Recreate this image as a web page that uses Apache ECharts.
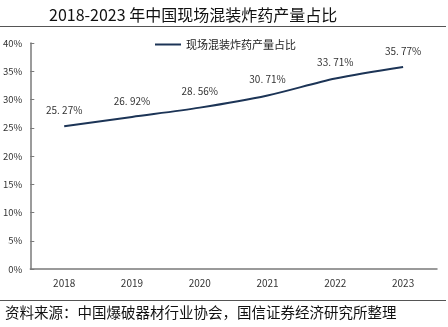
<!DOCTYPE html>
<html>
<head>
<meta charset="utf-8">
<script src="https://cdn.jsdelivr.net/npm/echarts@6/dist/echarts.min.js"></script>
<style>
  html, body { margin: 0; padding: 0; background: #fff; }
  #chart { width: 448px; height: 327px; }
</style>
</head>
<body>
<div id="chart"></div>
<script>
// 现场混装炸药产量占比（%）
const years = ['2018', '2019', '2020', '2021', '2022', '2023'];
const shareValues = [25.27, 26.92, 28.56, 30.71, 33.71, 35.77];
const seriesName = '现场混装炸药产量占比';
const titleText = '2018-2023 年中国现场混装炸药产量占比';
const sourceText = '资料来源：中国爆破器材行业协会，国信证券经济研究所整理';

const fontFamily = '"Noto Sans CJK SC", "Noto Sans", sans-serif';
const chart = echarts.init(document.getElementById('chart'), null, { renderer: 'canvas' });

chart.setOption({
  backgroundColor: '#fff',
  animation: false,
  textStyle: { fontFamily: fontFamily },
  title: {
    text: titleText,
    left: 44,
    top: 2,
    textStyle: { fontSize: 16, fontWeight: 'normal', color: '#111', fontFamily: fontFamily }
  },
  legend: {
    data: [seriesName],
    left: 150,
    top: 34,
    itemWidth: 26,
    itemHeight: 2,
    itemGap: 4,
    icon: 'rect',
    textStyle: { fontSize: 11, color: '#222', fontFamily: fontFamily }
  },
  grid: { left: 28, right: 11, top: 43, bottom: 58, containLabel: false },
  xAxis: {
    type: 'category',
    data: years,
    boundaryGap: true,
    axisLine: { lineStyle: { color: '#7a7a7a', width: 1.5 } },
    axisTick: { inside: true, length: 4, lineStyle: { color: '#7a7a7a' } },
    axisLabel: { color: '#333', fontSize: 10, margin: 9 }
  },
  yAxis: {
    type: 'value',
    min: 0,
    max: 40,
    interval: 5,
    splitLine: { show: false },
    axisLine: { show: true, lineStyle: { color: '#7a7a7a', width: 1.5 } },
    axisTick: { show: true, inside: true, length: 4, lineStyle: { color: '#7a7a7a' } },
    axisLabel: { color: '#333', fontSize: 9.5, margin: 8, formatter: v => v + '%' }
  },
  series: [{
    name: seriesName,
    type: 'line',
    data: shareValues,
    smooth: 0.3,
    symbol: 'circle',
    symbolSize: 0,
    lineStyle: { color: '#1c3456', width: 2 },
    itemStyle: { color: '#1c3456' },
    label: {
      show: true,
      position: 'top',
      distance: 11,
      color: '#333',
      fontSize: 10,
      formatter: p => p.value.toFixed(2).replace('.', '. ') + '%'
    }
  }],
  graphic: [
    {
      type: 'line',
      shape: { x1: 0, y1: 26.5, x2: 446, y2: 26.5 },
      style: { stroke: '#555', lineWidth: 1.2 }
    },
    {
      type: 'line',
      shape: { x1: 0, y1: 300.5, x2: 446, y2: 300.5 },
      style: { stroke: '#555', lineWidth: 1.2 }
    },
    {
      type: 'text',
      left: 5,
      top: 305,
      style: { text: sourceText, fontSize: 14.5, fill: '#111', fontFamily: fontFamily }
    }
  ]
});
</script>
</body>
</html>
